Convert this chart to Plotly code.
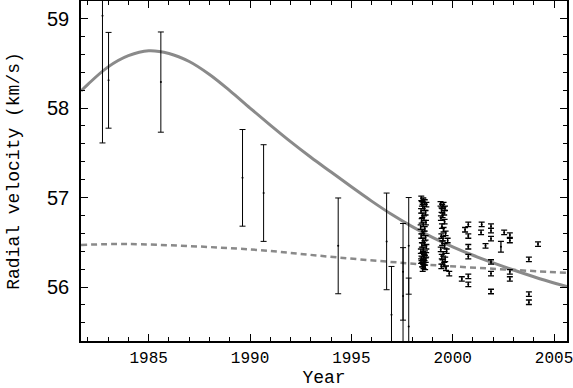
import plotly.graph_objects as go

# Older, low-precision radial velocities (year, km/s, 1-sigma error)
old_year = [1982.72, 1983.02, 1985.60, 1989.63, 1990.67, 1994.35, 1996.74, 1996.98,
            1997.55, 1997.55, 1997.83, 1997.83]
old_vel = [59.03, 58.31, 58.29, 57.22, 57.05, 56.46, 56.51, 55.69,
           56.17, 55.90, 56.46, 55.56]
old_err = [1.42, 0.535, 0.56, 0.54, 0.54, 0.535, 0.54, 0.54,
           0.54, 0.54, 0.54, 0.54]

# Recent, high-precision radial velocities
new_year = [1998.45, 1998.55, 1998.62, 1998.48, 1998.70, 1998.52, 1998.60, 1998.44, 1998.66, 1998.50,
            1998.58, 1998.47, 1998.68, 1998.55, 1998.42, 1998.62, 1998.50, 1998.57, 1998.45, 1998.66,
            1998.53, 1998.60, 1998.48, 1998.70, 1998.55, 1998.43, 1998.63, 1998.51, 1998.58, 1998.46,
            1998.67, 1998.54, 1998.61, 1998.49, 1998.56, 1998.64, 1998.52, 1998.44, 1998.69,
            1999.40, 1999.55, 1999.48, 1999.62, 1999.45, 1999.58, 1999.50, 1999.42, 1999.60, 1999.47,
            1999.55, 1999.65, 1999.44, 1999.52, 1999.75, 1999.48, 1999.60, 1999.41, 1999.70, 1999.53,
            1999.46, 1999.63, 1999.50, 1999.58, 1999.44, 1999.67, 1999.83,
            2000.77, 2000.61, 2000.77, 2000.77, 2000.77, 2000.45, 2000.77, 2000.77,
            2001.43, 2001.40, 2001.62, 2001.89, 2001.89, 2001.89, 2001.89, 2001.89, 2001.89,
            2002.38, 2002.54, 2002.82, 2002.82, 2002.82, 2002.82,
            2004.21, 2003.76, 2003.76, 2003.76]
new_vel = [56.99, 56.97, 56.95, 56.93, 56.92, 56.90, 56.88, 56.85, 56.83, 56.80,
           56.77, 56.74, 56.72, 56.70, 56.67, 56.65, 56.62, 56.60, 56.57, 56.55,
           56.52, 56.49, 56.47, 56.45, 56.42, 56.40, 56.38, 56.36, 56.34, 56.32,
           56.30, 56.28, 56.27, 56.25, 56.23, 56.22, 56.20, 56.29, 56.36,
           56.93, 56.92, 56.90, 56.88, 56.86, 56.83, 56.80, 56.77, 56.73, 56.68,
           56.64, 56.60, 56.57, 56.54, 56.52, 56.49, 56.46, 56.42, 56.40, 56.37,
           56.34, 56.31, 56.28, 56.25, 56.23, 56.21, 56.15,
           56.70, 56.64, 56.57, 56.45, 56.34, 56.09, 56.12, 56.03,
           56.70, 56.61, 56.46, 56.68, 56.63, 56.54, 56.28, 56.15, 55.95,
           56.45, 56.61, 56.58, 56.52, 56.17, 56.09,
           56.48, 56.31, 55.92, 55.83]
new_err = [0.025] * len(new_vel)
new_err[new_year.index(2002.38)] = 0.06

# Orbit fit (solid) and long-term trend (dashed)
fit_year = [1981.66, 1982, 1983, 1984, 1985, 1986, 1987, 1988, 1989, 1990, 1991, 1992, 1993,
            1994, 1995, 1996, 1997, 1998, 1999, 2000, 2001, 2002, 2003, 2004, 2005, 2005.64]
fit_vel = [58.19, 58.265, 58.46, 58.585, 58.64, 58.61, 58.52, 58.375, 58.195, 58.00, 57.81, 57.625, 57.45,
           57.285, 57.12, 56.96, 56.81, 56.675, 56.555, 56.45, 56.355, 56.27, 56.19, 56.115, 56.045, 56.005]
trend_year = [1981.66, 1984.0, 1990.0, 1994.35, 1998.7, 2000.8, 2004.7, 2005.64]
trend_vel = [56.47, 56.48, 56.42, 56.33, 56.25, 56.22, 56.17, 56.16]

xticks = [1985, 1990, 1995, 2000, 2005]
yticks = [56, 57, 58, 59]

fig = go.Figure()
fig.add_trace(go.Scatter(x=fit_year, y=fit_vel, mode="lines", line=dict(color="#8a8a8a", width=3, shape="spline"),
                         hoverinfo="skip"))
fig.add_trace(go.Scatter(x=trend_year, y=trend_vel, mode="lines",
                         line=dict(color="#8a8a8a", width=2.5, dash="6px,4px", shape="spline"), hoverinfo="skip"))
fig.add_trace(go.Scatter(x=old_year, y=old_vel, mode="markers", marker=dict(color="black", size=2),
                         error_y=dict(type="data", array=old_err, color="black", thickness=1, width=3)))
fig.add_trace(go.Scatter(x=new_year, y=new_vel, mode="markers", marker=dict(color="black", size=2),
                         error_y=dict(type="data", array=new_err, color="black", thickness=1.3, width=3)))

axis_common = dict(showgrid=False, zeroline=False, showline=True, linecolor="black", linewidth=1.5,
                   mirror="ticks", ticks="inside", tickcolor="black", tickwidth=1, automargin=False,
                   ticklabeloverflow="allow")
fig.update_xaxes(range=[1981.66, 2005.64], tickvals=xticks, ticklen=7,
                 minor=dict(dtick=1, tick0=1980, ticks="inside", ticklen=4, tickcolor="black", tickwidth=1),
                 tickfont=dict(family="Liberation Mono", size=16, color="black"),
                 ticklabelstandoff=1,
                 title=dict(text="Year", font=dict(family="Liberation Mono", size=18, color="black"), standoff=3),
                 **axis_common)
fig.update_yaxes(range=[55.397, 59.196], tickvals=yticks, ticklen=7,
                 minor=dict(dtick=0.2, tick0=55, ticks="inside", ticklen=4, tickcolor="black", tickwidth=1),
                 tickfont=dict(family="Liberation Sans", size=20, color="black"),
                 ticklabelstandoff=6,
                 title=dict(text="Radial velocity (km/s)", font=dict(family="Liberation Mono", size=18, color="black"),
                            standoff=23),
                 **axis_common)
fig.update_layout(width=573, height=388, margin=dict(l=81, r=6, t=1, b=47),
                  paper_bgcolor="white", plot_bgcolor="white", showlegend=False)
fig.write_html("out.html", config={"displayModeBar": False},
               post_script="document.body.style.margin='0';")
